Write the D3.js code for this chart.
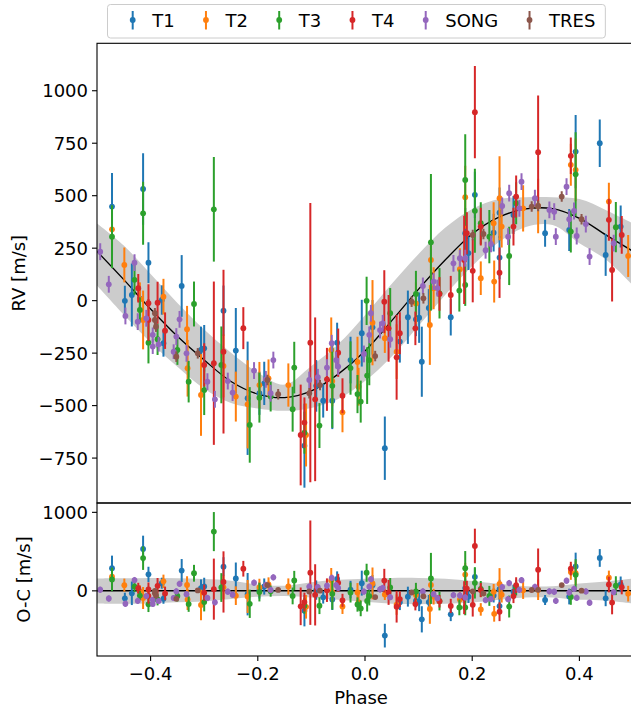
<!DOCTYPE html>
<html><head><meta charset="utf-8">
<script src="https://cdn.jsdelivr.net/npm/d3@7"></script>
<style>body{margin:0;background:#fff}svg{display:block;font-family:"DejaVu Sans",sans-serif}</style>
</head><body><svg id="c" width="631" height="711"></svg>
<script>
// ---------- data (phase, RV [m/s], error [m/s]) ----------
const seriesNames = ["T1","T2","T3","T4","SONG","TRES"];
const seriesColors = ["#1f77b4","#ff7f0e","#2ca02c","#d62728","#9467bd","#8c564b"];

const t1 = [[-0.472,448,160],[-0.448,-1,72],[-0.435,27,150],[-0.42,10,60],[-0.414,532,170],[-0.404,181,97],
[-0.379,3,70],[-0.376,-203,64],[-0.342,70,147],[-0.306,-235,111],[-0.300,-227,111],[-0.264,-48,120],
[-0.241,-238,203],[-0.219,-465,270],[-0.197,-441,103],[-0.188,-394,103],[-0.113,-691,200],[-0.091,-406,123],
[-0.078,-477,80],[-0.061,-477,135],[-0.052,-200,95],[-0.027,-283,111],[-0.006,-155,159],[0.014,-127,130],
[0.037,-703,151],[0.065,-195,100],[0.080,-79,127],[0.095,-89,80],[0.101,-81,120],[0.106,-291,167],
[0.119,-35,90],[0.160,-79,87],[0.187,321,120],[0.193,226,80],[0.205,504,110],[0.240,324,90],[0.251,419,120],
[0.251,205,103],[0.277,408,90],[0.336,321,64],[0.381,337,100],[0.393,710,175],[0.438,750,113],[0.449,218,100],
[0.477,353,100]];

const t2 = [[-0.472,340,80],[-0.449,170,83],[-0.42,7,80],[-0.414,-92,140],[-0.376,19,85],[-0.332,-136,111],
[-0.331,-322,135],[-0.306,-449,195],[-0.264,-311,150],[-0.241,-457,119],[-0.219,-494,210],[-0.197,-402,110],
[-0.180,-370,90],[-0.143,-402,103],[-0.110,-640,150],[-0.063,-235,155],[-0.061,-383,120],[-0.042,-532,95],
[-0.014,-292,120],[-0.012,-410,90],[0.014,-105,203],[0.037,-179,70],[0.059,-243,130],[0.095,-13,100],
[0.121,-116,190],[0.123,194,100],[0.128,59,100],[0.177,150,100],[0.187,493,150],[0.216,107,80],[0.240,369,100],
[0.241,91,100],[0.251,488,200],[0.255,353,100],[0.295,440,110],[0.323,451,130],[0.384,647,100],[0.393,623,150],
[0.455,472,90],[0.491,213,100]];

const t3 = [[-0.472,305,150],[-0.430,99,71],[-0.420,-44,60],[-0.414,416,150],[-0.404,-200,99],[-0.387,-184,75],
[-0.350,-235,71],[-0.329,-386,99],[-0.319,-16,107],[-0.300,-426,119],[-0.282,435,249],[-0.268,-306,183],
[-0.215,-592,180],[-0.197,-462,119],[-0.176,-457,71],[-0.135,-517,107],[-0.132,-319,123],[-0.113,-629,100],
[-0.085,-595,107],[-0.061,-406,200],[-0.027,-321,127],[-0.014,-445,91],[-0.008,-481,100],[0.003,-1,115],
[0.004,-357,135],[0.008,-283,120],[0.047,-60,120],[0.095,32,110],[0.123,278,325],[0.139,35,120],[0.176,48,100],
[0.187,75,100],[0.187,575,218],[0.205,428,200],[0.216,369,100],[0.232,305,127],[0.269,213,139],[0.282,464,100],
[0.384,329,100],[0.393,602,200],[0.468,350,120]];

const t4 = [[-0.423,59,68],[-0.404,-12,90],[-0.404,-92,100],[-0.387,-10,100],[-0.373,-143,87],[-0.300,-306,103],
[-0.282,-298,389],[-0.264,-243,390],[-0.227,-131,100],[-0.120,-640,240],[-0.113,-581,120],[-0.102,-200,665],
[-0.093,-470,390],[-0.071,-375,150],[-0.050,-248,115],[-0.042,-453,83],[0.036,-5,150],[0.044,-132,159],
[0.059,-270,202],[0.065,-155,100],[0.094,-132,80],[0.139,32,80],[0.160,27,91],[0.185,194,210],[0.190,321,100],
[0.201,142,150],[0.205,898,220],[0.216,353,90],[0.251,133,120],[0.277,353,90],[0.282,496,100],[0.323,707,270],
[0.384,690,87],[0.455,385,100],[0.461,146,150],[0.479,313,90]];

const song = [[-0.494,233,40],[-0.478,78,40],[-0.447,-73,40],[-0.430,181,40],[-0.424,-100,40],[-0.408,-84,40],
[-0.396,-163,35],[-0.396,-219,35],[-0.385,-208,35],[-0.357,-243,35],[-0.352,-171,40],[-0.346,-89,40],
[-0.333,-251,40],[-0.294,-386,40],[-0.280,-470,40],[-0.256,-383,40],[-0.247,-438,40],[-0.207,-333,40],
[-0.185,-375,40],[-0.176,-441,40],[-0.171,-283,40],[-0.104,-378,40],[-0.088,-365,40],[-0.071,-319,40],
[-0.062,-203,40],[-0.054,-283,40],[-0.050,-314,40],[-0.002,-254,40],[0.008,-163,40],[0.011,-60,40],
[0.028,-140,40],[0.033,-108,40],[0.047,-184,40],[0.108,70,40],[0.128,91,40],[0.135,60,40],[0.165,178,40],
[0.177,202,40],[0.187,202,40],[0.225,240,40],[0.235,270,40],[0.256,451,40],[0.267,305,40],[0.269,512,40],
[0.288,440,40],[0.292,567,40],[0.317,488,40],[0.344,432,40],[0.353,424,40],[0.356,305,40],[0.376,543,40],
[0.381,388,40],[0.390,427,40],[0.395,308,40],[0.412,365,40],[0.419,210,40],[0.464,274,40]];

const tres = [[-0.392,-60,25],[-0.392,-92,25],[-0.390,-124,25],[-0.352,-267,25],[-0.312,-251,25],[-0.182,-378,25],
[-0.162,-446,25],[-0.104,-441,25],[-0.084,-402,25],[0.019,-264,25],[0.087,-5,25],[0.109,11,25],[0.201,313,25],
[0.221,318,25],[0.311,448,25],[0.323,451,25],[0.367,496,25],[0.404,388,25]];

// model curve and its uncertainty band
const modelPhase = [-0.5,-0.45,-0.4,-0.35,-0.3,-0.25,-0.2,-0.15,-0.1,-0.05,0,0.05,0.1,0.15,0.2,0.25,0.3,0.35,0.4,0.45,0.5];
const modelRV    = [235,100,-40,-170,-283,-385,-445,-462,-430,-350,-240,-95,55,195,318,398,437,438,392,312,235];
const bandHi     = [368,263,127,-11,-138,-248,-342,-400,-311,-207,-69,80,222,348,437,484,493,493,484,431,368];
const bandLo     = [72,-67,-199,-315,-420,-488,-514,-525,-511,-469,-383,-266,-120,28,165,279,351,360,273,195,72];
const ocBandHi   = [158,160,165,160,150,130,80,65,110,140,155,165,165,155,125,90,60,60,95,120,158];
const ocBandLo   = [-160,-165,-160,-145,-135,-105,-75,-65,-85,-115,-140,-165,-170,-165,-150,-115,-85,-85,-115,-125,-160];

const xTicks  = [-0.4,-0.2,0,0.2,0.4];
const rvTicks = [-750,-500,-250,0,250,500,750,1000];
const ocTicks = [0,1000];

// ---------- drawing ----------
const allSeries = [t1,t2,t3,t4,song,tres];
const svg = d3.select("#c");
const FONT = 18;
const L = 97, R = 633, T1y = 43.3, MID = 503, B = 656;

const x = d3.scaleLinear().domain([-0.5,0.5]).range([L,R]);
const yTop = d3.scaleLinear().domain([-964,1226]).range([MID,T1y]);
const yBot = d3.scaleLinear().domain([-830,1119]).range([B,MID]);

const modelAt = p => {
  for (let i=0;i<modelPhase.length-1;i++){
    if (p>=modelPhase[i] && p<=modelPhase[i+1]){
      const f=(p-modelPhase[i])/(modelPhase[i+1]-modelPhase[i]);
      return modelRV[i]+f*(modelRV[i+1]-modelRV[i]);
    }
  }
  return modelRV[modelRV.length-1];
};

const defs = svg.append("defs");
defs.append("clipPath").attr("id","clipTop").append("rect").attr("x",L).attr("y",T1y).attr("width",R-L).attr("height",MID-T1y);
defs.append("clipPath").attr("id","clipBot").append("rect").attr("x",L).attr("y",MID).attr("width",R-L).attr("height",B-MID);

const idx = d3.range(modelPhase.length);
// top panel
const gT = svg.append("g").attr("clip-path","url(#clipTop)");
gT.append("path").datum(idx)
  .attr("d", d3.area().x(i=>x(modelPhase[i])).y0(i=>yTop(bandLo[i])).y1(i=>yTop(bandHi[i])).curve(d3.curveCatmullRom))
  .attr("fill","#cccccc");
gT.append("path").datum(idx)
  .attr("d", d3.line().x(i=>x(modelPhase[i])).y(i=>yTop(modelRV[i])).curve(d3.curveCatmullRom))
  .attr("fill","none").attr("stroke","#000").attr("stroke-width",1.3);

// bottom panel
const gB = svg.append("g").attr("clip-path","url(#clipBot)");
gB.append("path").datum(idx)
  .attr("d", d3.area().x(i=>x(modelPhase[i])).y0(i=>yBot(ocBandLo[i])).y1(i=>yBot(ocBandHi[i])).curve(d3.curveCatmullRom))
  .attr("fill","#cccccc");
gB.append("line").attr("x1",L).attr("x2",R).attr("y1",yBot(0)).attr("y2",yBot(0)).attr("stroke","#000").attr("stroke-width",1.5);

function drawSeries(g, yS, data, color, valFn){
  const s = g.append("g");
  s.selectAll("line").data(data).join("line")
    .attr("x1",d=>x(d[0])).attr("x2",d=>x(d[0]))
    .attr("y1",d=>yS(valFn(d)-d[2])).attr("y2",d=>yS(valFn(d)+d[2]))
    .attr("stroke",color).attr("stroke-width",2);
  s.selectAll("circle").data(data).join("circle")
    .attr("cx",d=>x(d[0])).attr("cy",d=>yS(valFn(d))).attr("r",2.9).attr("fill",color);
}
allSeries.forEach((data,i)=>{
  drawSeries(gT, yTop, data, seriesColors[i], d=>d[1]);
  drawSeries(gB, yBot, data, seriesColors[i], d=>d[1]-modelAt(d[0]));
});

// spines
const sp = svg.append("g").attr("stroke","#000").attr("stroke-width",1.1).attr("fill","none");
sp.append("rect").attr("x",L).attr("y",T1y).attr("width",R-L).attr("height",MID-T1y);
sp.append("rect").attr("x",L).attr("y",MID).attr("width",R-L).attr("height",B-MID);

// y ticks
function yAxis(yS, ticks){
  const g = svg.append("g");
  ticks.forEach(t=>{
    const yy = yS(t);
    g.append("line").attr("x1",L-5).attr("x2",L).attr("y1",yy).attr("y2",yy).attr("stroke","#000").attr("stroke-width",1.1);
    g.append("text").attr("x",L-9).attr("y",yy+6.5).attr("text-anchor","end").attr("font-size",FONT)
      .text(t<0 ? "\u2212"+Math.abs(t) : String(t));
  });
}
yAxis(yTop, rvTicks);
yAxis(yBot, ocTicks);

// x ticks
const gx = svg.append("g");
xTicks.forEach(t=>{
  const xx = x(t);
  gx.append("line").attr("x1",xx).attr("x2",xx).attr("y1",B).attr("y2",B+5).attr("stroke","#000").attr("stroke-width",1.1);
  gx.append("text").attr("x",xx).attr("y",680).attr("text-anchor","middle").attr("font-size",FONT)
    .text((t<0?"\u2212":"")+Math.abs(t).toFixed(1));
});

// axis labels
svg.append("text").attr("x",(L+R)/2 - 4).attr("y",704).attr("text-anchor","middle").attr("font-size",FONT).text("Phase");
svg.append("text").attr("transform",`translate(25,${(T1y+MID)/2}) rotate(-90)`).attr("text-anchor","middle").attr("font-size",FONT).text("RV [m/s]");
svg.append("text").attr("transform",`translate(30,${(MID+B)/2}) rotate(-90)`).attr("text-anchor","middle").attr("font-size",FONT).text("O-C [m/s]");

// legend
const lg = svg.append("g");
const box = lg.append("rect").attr("y",4.5).attr("height",33.5).attr("rx",3)
  .attr("fill","#fff").attr("fill-opacity",0.8).attr("stroke","#cccccc").attr("stroke-width",1);
let hx = 132.7;
seriesNames.forEach((n,i)=>{
  lg.append("line").attr("x1",hx).attr("x2",hx).attr("y1",11).attr("y2",29.5).attr("stroke",seriesColors[i]).attr("stroke-width",2);
  lg.append("circle").attr("cx",hx).attr("cy",20).attr("r",2.9).attr("fill",seriesColors[i]);
  const tx = lg.append("text").attr("x",hx+19.5).attr("y",27).attr("font-size",FONT).text(n);
  const w = tx.node().getComputedTextLength();
  if (i===seriesNames.length-1){
    box.attr("x",107.5).attr("width",hx+19.5+w+10-107.5);
  }
  hx = hx + 19.5 + w + 31.3;
});
</script></body></html>
